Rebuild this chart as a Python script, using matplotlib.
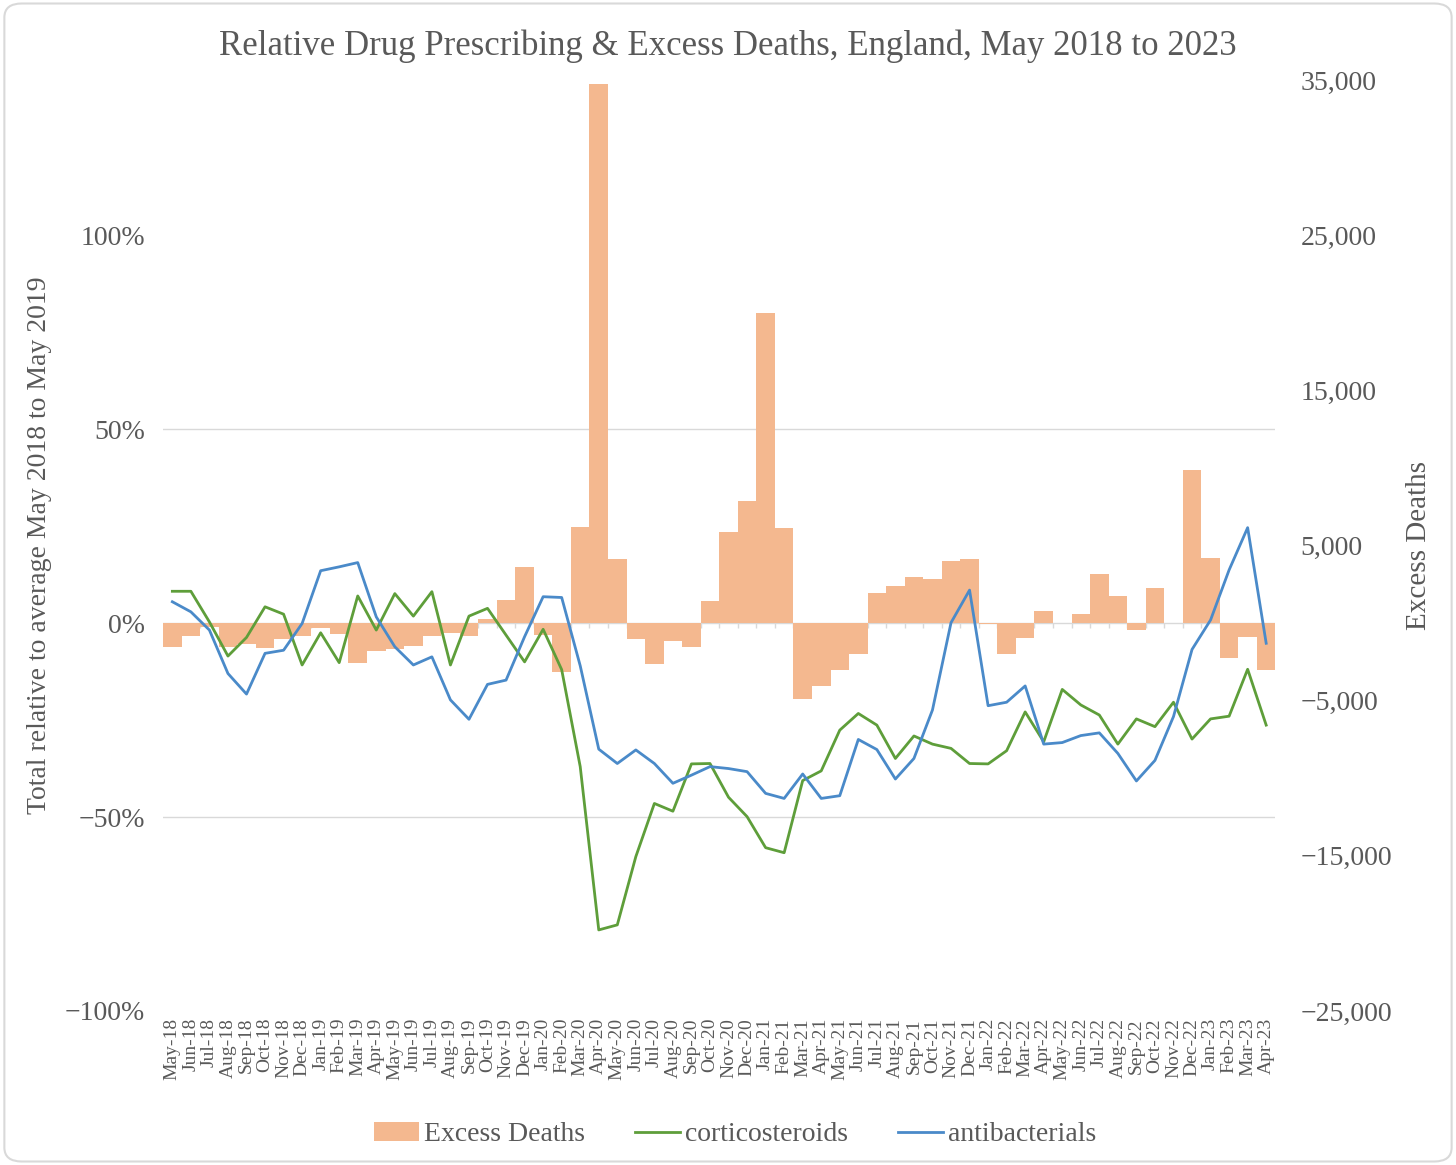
import numpy as np
import matplotlib
matplotlib.use("Agg")
import matplotlib.pyplot as plt
from matplotlib.patches import FancyBboxPatch

plt.rcParams['font.family'] = ['Liberation Serif', 'DejaVu Serif']

# month labels May-18 .. Apr-23
months = ['May-18', 'Jun-18', 'Jul-18', 'Aug-18', 'Sep-18', 'Oct-18', 'Nov-18', 'Dec-18',
          'Jan-19', 'Feb-19', 'Mar-19', 'Apr-19', 'May-19', 'Jun-19', 'Jul-19', 'Aug-19',
          'Sep-19', 'Oct-19', 'Nov-19', 'Dec-19', 'Jan-20', 'Feb-20', 'Mar-20', 'Apr-20',
          'May-20', 'Jun-20', 'Jul-20', 'Aug-20', 'Sep-20', 'Oct-20', 'Nov-20', 'Dec-20',
          'Jan-21', 'Feb-21', 'Mar-21', 'Apr-21', 'May-21', 'Jun-21', 'Jul-21', 'Aug-21',
          'Sep-21', 'Oct-21', 'Nov-21', 'Dec-21', 'Jan-22', 'Feb-22', 'Mar-22', 'Apr-22',
          'May-22', 'Jun-22', 'Jul-22', 'Aug-22', 'Sep-22', 'Oct-22', 'Nov-22', 'Dec-22',
          'Jan-23', 'Feb-23', 'Mar-23', 'Apr-23']

excess_deaths = [-1550, -850, -270, -1550, -1320, -1600, -1000, -800,
                 -300, -680, -2600, -1770, -1650, -1450, -800, -650,
                 -850, 250, 1520, 3640, -740, -3170, 6220, 34730,
                 4100, -1020, -2630, -1170, -1520, 1450, 5860, 7840,
                 19960, 6160, -4890, -4080, -3000, -1990, 1950, 2370,
                 2980, 2870, 3970, 4100, -50, -2010, -980, 760,
                 0, 610, 3170, 1770, -420, 2240, 0, 9880,
                 4180, -2270, -870, -3020]

corticosteroids = [8.2, 8.2, 0.3, -8.5, -3.7, 4.2, 2.3, -10.8,
                   -2.5, -10.2, 7.0, -1.8, 7.6, 1.8, 8.1, -10.8,
                   1.8, 3.8, -3.1, -10.0, -1.6, -12.0, -37.0, -79.1,
                   -77.8, -60.2, -46.5, -48.5, -36.3, -36.2, -44.9, -49.9,
                   -57.9, -59.2, -40.6, -38.1, -27.6, -23.3, -26.3, -34.9,
                   -29.1, -31.2, -32.3, -36.2, -36.3, -32.9, -22.9, -30.6,
                   -17.1, -21.1, -23.7, -31.2, -24.7, -26.7, -20.4, -29.9,
                   -24.7, -24.0, -11.9, -26.3]

antibacterials = [5.5, 2.9, -1.8, -13.0, -18.3, -7.8, -7.0, -0.1,
                  13.5, 14.5, 15.6, 1.6, -6.1, -10.8, -8.7, -19.8,
                  -24.8, -15.8, -14.7, -3.5, 6.8, 6.6, -11.0, -32.5,
                  -36.2, -32.7, -36.2, -41.3, -39.2, -37.0, -37.5, -38.3,
                  -43.9, -45.2, -38.9, -45.2, -44.5, -30.0, -32.6, -40.2,
                  -34.9, -22.4, 0.1, 8.5, -21.3, -20.4, -16.2, -31.2,
                  -30.8, -29.0, -28.3, -33.6, -40.7, -35.4, -24.1, -6.8,
                  0.8, 13.7, 24.6, -5.2]

grey = '#595959'
x = np.arange(len(months))

fig = plt.figure(figsize=(14.56, 11.65), dpi=100)
fig.patches.append(FancyBboxPatch((0.003, 0.003), 0.994, 0.994, boxstyle='round,pad=0,rounding_size=0.012',
                                  transform=fig.transFigure, facecolor='white', edgecolor='#d9d9d9',
                                  lw=1.5, zorder=-10))

ax2 = fig.add_axes([0.112, 0.1322, 0.764, 0.7991])
ax = ax2.twinx()
ax.yaxis.set_label_position('left')
ax.yaxis.tick_left()
ax2.yaxis.set_label_position('right')
ax2.yaxis.tick_right()
ax.set_zorder(ax2.get_zorder() + 1)
ax.patch.set_visible(False)
ax2.patch.set_visible(False)

# bars on right axis (excess deaths)
bars = ax2.bar(x, excess_deaths, width=1.0, color='#F4B88F', edgecolor='none', label='Excess Deaths', zorder=2)
ax2.set_ylim(-25000, 35000)
ax2.set_yticks(np.arange(-25000, 35001, 10000))
ax2.set_yticklabels(['−25,000', '−15,000', '−5,000', '5,000', '15,000', '25,000', '35,000'])
ax2.set_yticks([-25000, -12500, 0, 12500, 25000], minor=True)
ax2.yaxis.grid(True, which='minor', color='#d9d9d9', lw=1)
ax2.set_axisbelow(True)
ax2.tick_params(axis='y', which='both', length=0, labelsize=20, labelcolor=grey, pad=18)
ax2.set_ylabel('Excess Deaths', fontsize=21, color=grey, labelpad=10)
ax2.vlines(x[1:] - 0.5, -320, 0, color='#d9d9d9', lw=1, zorder=1)

# month labels on the bottom axis
ax2.set_xlim(-0.5, len(months) - 0.5)
ax2.set_xticks(x)
ax2.set_xticklabels(months, rotation=90, fontsize=14, color=grey)
ax2.tick_params(axis='x', length=0, pad=5)

# lines on left axis
l1, = ax.plot(x, corticosteroids, color='#5E9E3A', lw=2, label='corticosteroids')
l2, = ax.plot(x, antibacterials, color='#4A8AC9', lw=2, label='antibacterials')
ax.set_ylim(-100, 140)
ax.set_yticks([-100, -50, 0, 50, 100])
ax.set_yticklabels(['−100%', '−50%', '0%', '50%', '100%'])
ax.tick_params(axis='y', length=0, labelsize=20, labelcolor=grey, pad=13)
ax.set_ylabel('Total relative to average May 2018 to May 2019', fontsize=20, color=grey, labelpad=9)

for a in (ax, ax2):
    for s in a.spines.values():
        s.set_visible(False)

fig.suptitle('Relative Drug Prescribing & Excess Deaths, England, May 2018 to 2023',
             fontsize=25, color=grey, y=0.975)

fig.legend(handles=[bars, l1, l2], loc='center', bbox_to_anchor=(0.505, 0.026), ncol=3,
           frameon=False, fontsize=20, labelcolor=grey, handlelength=1.6, handletextpad=0.2,
           columnspacing=1.8)

fig.savefig('out.png', dpi=100)
